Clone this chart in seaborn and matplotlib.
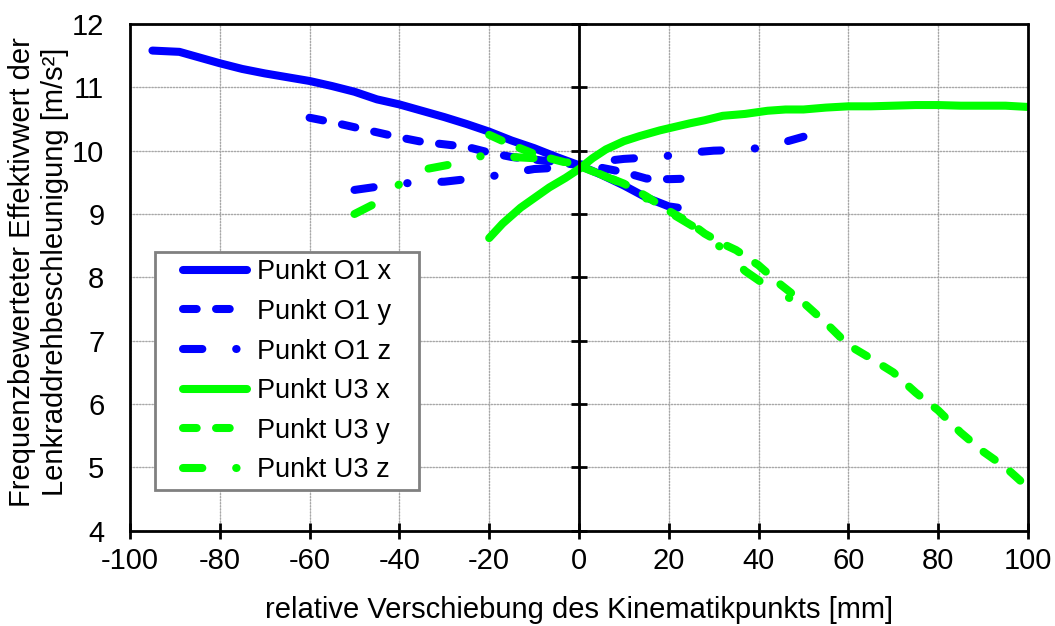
import matplotlib
matplotlib.use("Agg")
import matplotlib.pyplot as plt
import pandas as pd
import seaborn as sns

# Verschiebung des Kinematikpunkts [mm] und frequenzbewerteter Effektivwert [m/s²]
o1x_mm = [-95, -89, -85, -80, -75, -70, -65, -60, -55, -50, -45, -40, -35, -30,
          -25, -20, -15, -10, -5, 0, 5, 10, 15, 20, 22]
o1x_val = [11.58, 11.56, 11.48, 11.38, 11.29, 11.22, 11.16, 11.10, 11.02, 10.93,
           10.81, 10.73, 10.63, 10.53, 10.42, 10.30, 10.16, 10.04, 9.90, 9.77,
           9.62, 9.45, 9.26, 9.12, 9.10]

o1y_mm = [-60, -55, -50, -45, -40, -35, -30, -25, -20, -15, -10, -5, 0, 5, 10,
          15, 20, 25]
o1y_val = [10.52, 10.45, 10.37, 10.29, 10.21, 10.14, 10.10, 10.06, 9.97, 9.90,
           9.86, 9.82, 9.77, 9.73, 9.66, 9.56, 9.55, 9.56]

o1z_mm = [-50, -45, -40, -35, -30, -25, -20, -15, -10, -5, 0, 5, 10, 15, 20, 25,
          30, 35, 40, 45, 50]
o1z_val = [9.38, 9.43, 9.48, 9.50, 9.51, 9.55, 9.59, 9.65, 9.71, 9.73, 9.78,
           9.83, 9.87, 9.89, 9.92, 9.97, 10.00, 10.01, 10.04, 10.12, 10.22]

u3x_mm = [-20, -17, -13, -10, -6.6, -3, 0, 3, 6, 10, 13.5, 18, 24.6, 28, 32, 37,
          42, 46, 50, 55, 60, 65, 70, 75, 80, 85, 90, 95, 100]
u3x_val = [8.62, 8.85, 9.10, 9.25, 9.42, 9.57, 9.71, 9.88, 10.02, 10.15, 10.23,
           10.32, 10.43, 10.48, 10.55, 10.58, 10.63, 10.65, 10.65, 10.68, 10.70,
           10.70, 10.71, 10.72, 10.72, 10.71, 10.71, 10.71, 10.69]

u3y_mm = [-20, -16, -10, -5, 0, 5, 10, 15, 20, 25, 28, 32, 35, 40, 45, 50, 55,
          60, 65, 70, 75, 80, 85, 90, 95, 100]
u3y_val = [10.25, 10.12, 9.95, 9.85, 9.76, 9.62, 9.48, 9.28, 9.05, 8.85, 8.69,
           8.53, 8.43, 8.19, 7.88, 7.60, 7.28, 6.93, 6.72, 6.50, 6.18, 5.90,
           5.55, 5.25, 5.00, 4.68]

u3z_mm = [-50, -45, -40, -34, -28, -21, -15, -7, -1.5, 0, 5, 10, 16, 21.5, 26,
          32, 37, 41.7, 48, 50]
u3z_val = [9.00, 9.18, 9.47, 9.71, 9.79, 9.93, 9.90, 9.87, 9.80, 9.77, 9.62,
           9.47, 9.20, 8.97, 8.78, 8.45, 8.10, 7.87, 7.63, 7.56]

series_names = ["Punkt O1 x", "Punkt O1 y", "Punkt O1 z",
                "Punkt U3 x", "Punkt U3 y", "Punkt U3 z"]
series_mm = [o1x_mm, o1y_mm, o1z_mm, u3x_mm, u3y_mm, u3z_mm]
series_val = [o1x_val, o1y_val, o1z_val, u3x_val, u3y_val, u3z_val]

x_ticks = [-100, -80, -60, -40, -20, 0, 20, 40, 60, 80, 100]
y_ticks = [4, 5, 6, 7, 8, 9, 10, 11, 12]

BLUE = "#0000ff"
GREEN = "#00ff00"
palette = dict(zip(series_names, [BLUE, BLUE, BLUE, GREEN, GREEN, GREEN]))
# dash patterns in units of the line width
dashes = {
    "Punkt O1 x": "",
    "Punkt O1 y": (1.7, 2.4),
    "Punkt O1 z": (2.4, 4.2, 0.05, 4.2),
    "Punkt U3 x": "",
    "Punkt U3 y": (1.7, 2.4),
    "Punkt U3 z": (2.4, 4.2, 0.05, 4.2),
}

df = pd.concat(
    [pd.DataFrame({"Verschiebung": xs, "Effektivwert": ys, "Reihe": name})
     for name, xs, ys in zip(series_names, series_mm, series_val)],
    ignore_index=True,
)

sns.set_style("white")
plt.rcParams["font.family"] = ["Liberation Sans", "DejaVu Sans"]
plt.rcParams["text.color"] = "black"
plt.rcParams["axes.labelcolor"] = "black"
plt.rcParams["lines.dash_capstyle"] = "round"
plt.rcParams["lines.solid_capstyle"] = "round"
plt.rcParams["axes.unicode_minus"] = False

FS = 21
FS_LEG = 19.5
LW = 5.8
SPINE_LW = 2.0

fig = plt.figure(figsize=(10.55, 6.26), dpi=100)
ax = fig.add_axes([0.1232, 0.1522, 0.9744 - 0.1232, 0.9617 - 0.1522])

sns.lineplot(data=df, x="Verschiebung", y="Effektivwert", hue="Reihe",
             style="Reihe", hue_order=series_names, style_order=series_names,
             palette=palette, dashes=dashes, linewidth=LW, sort=False,
             estimator=None, ax=ax, zorder=3)

ax.set_xlim(-100, 100)
ax.set_ylim(4, 12)
ax.set_xticks(x_ticks)
ax.set_yticks(y_ticks)
ax.grid(True, color="#a8a8a8", linestyle=(0, (1, 1.2)), linewidth=1.0)
ax.set_axisbelow(True)

for side in ["left", "right", "top", "bottom"]:
    ax.spines[side].set_visible(True)
    ax.spines[side].set_color("black")
    ax.spines[side].set_linewidth(SPINE_LW)
    ax.spines[side].set_zorder(4)

# the right spine becomes the vertical axis through x = 0 (crossing ticks),
# while the tick labels stay at the left edge
ax.spines["right"].set_position(("data", 0))
ax.tick_params(axis="y", left=False, right=True, labelleft=True,
               labelright=False, direction="inout", length=11,
               width=SPINE_LW, labelsize=FS, pad=13, colors="black")
ax.tick_params(axis="x", bottom=True, direction="inout", length=11,
               width=SPINE_LW, labelsize=FS, pad=6, colors="black")
# right frame edge
ax.axvline(ax.get_xlim()[1], color="black", linewidth=SPINE_LW, clip_on=False,
           zorder=4)

ax.set_xlabel("relative Verschiebung des Kinematikpunkts [mm]", fontsize=FS,
              labelpad=15, color="black")
ax.set_ylabel("Frequenzbewerteter Effektivwert der\nLenkraddrehbeschleunigung [m/s²]",
              fontsize=FS, labelpad=2, linespacing=1.25, color="black")
ax.yaxis.label.set_y(0.51)

old = ax.get_legend()
handles = list(old.legend_handles)
labels = [t.get_text() for t in old.get_texts()]
old.remove()
keep = [(h, l) for h, l in zip(handles, labels) if l in series_names]
for h, _ in keep:
    h.set_linewidth(LW)
    h.set_dash_capstyle("round")
    h.set_solid_capstyle("round")
leg = ax.legend([h for h, _ in keep], [l for _, l in keep],
                loc="lower left", bbox_to_anchor=(0.0512, 0.080),
                fontsize=FS_LEG, frameon=True, fancybox=False, framealpha=1,
                edgecolor="#808080", handlelength=2.36, handletextpad=0.38,
                labelspacing=0.5, borderpad=0.26, borderaxespad=0)
frame = leg.get_frame()
frame.set_linewidth(2.0)
# wider padding left/right than top/bottom
frame.set_boxstyle("square", pad=0.78)
frame.set_mutation_aspect(0.01)
leg.set_zorder(5)
for t in leg.get_texts():
    t.set_color("black")

fig.savefig("out.png", dpi=100)
